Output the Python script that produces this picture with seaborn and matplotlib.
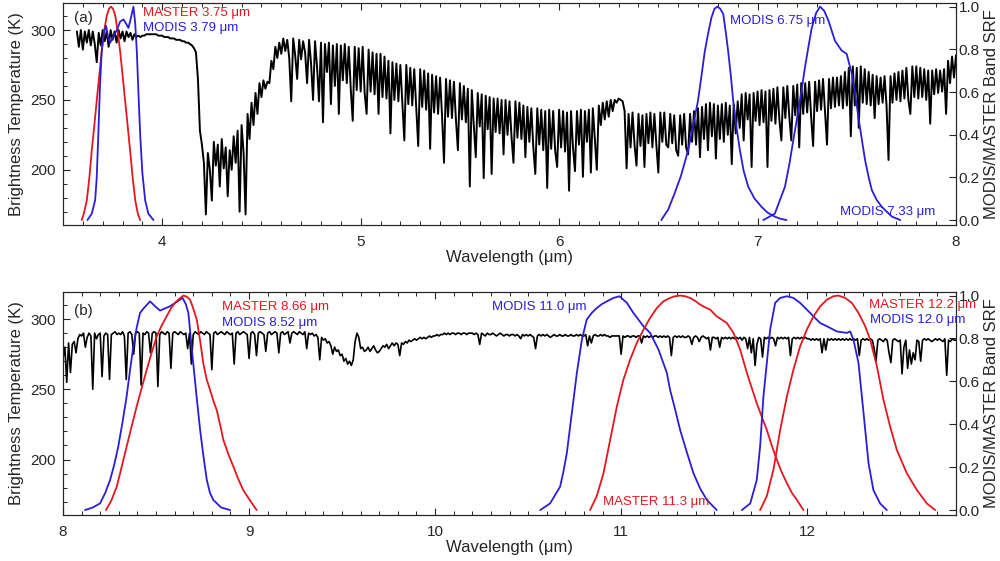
import numpy as np
import matplotlib
matplotlib.use("Agg")
import matplotlib.pyplot as plt
import seaborn as sns
from matplotlib.ticker import MultipleLocator

sns.set_style("ticks")
plt.rcParams.update({
    'font.family': ['Liberation Sans', 'DejaVu Sans'],
    'font.size': 11,
    'axes.linewidth': 0.8,
    'xtick.direction': 'in',
    'ytick.direction': 'in',
})

RED = '#e5161d'
BLUE = '#2a1ed6'

# ---- panel (a): brightness temperature spectrum, 3.57-8.00 um every 0.01 um ----
bt_a = [
    299, 288, 300,
    286, 299, 291, 300, 289, 299, 290, 277, 298, 289,
    300, 292, 299, 288, 300, 293, 299, 291, 300, 294,
    299, 292, 299, 295, 298, 293, 297, 295, 296, 295,
    296, 296, 297, 297, 297, 297, 297, 297, 296, 296,
    296, 295, 295, 295, 294, 294, 294, 293, 293, 293,
    292, 292, 291, 291, 290, 289, 287, 284, 265, 228,
    218, 205, 168, 212, 200, 178, 220, 203, 218, 188,
    222, 201, 216, 181, 214, 200, 224, 205, 228, 170,
    232, 212, 168, 240, 222, 248, 232, 255, 240, 262,
    252, 264, 258, 263, 262, 278, 272, 288, 280, 291,
    283, 294, 285, 293, 280, 249, 294, 282, 265, 293,
    279, 292, 284, 262, 293, 276, 250, 292, 274, 249,
    291, 234, 290, 270, 291, 247, 289, 260, 290, 240,
    289, 264, 290, 262, 288, 258, 235, 288, 257, 287,
    256, 288, 255, 240, 286, 256, 284, 254, 283, 240,
    283, 252, 281, 251, 278, 226, 277, 250, 276, 249,
    275, 248, 221, 275, 247, 273, 246, 272, 245, 217,
    272, 245, 271, 243, 269, 215, 268, 241, 267, 240,
    266, 239, 205, 265, 238, 264, 237, 263, 236, 214,
    262, 236, 260, 234, 258, 188, 257, 232, 209, 255,
    231, 254, 194, 253, 229, 252, 197, 251, 227, 251,
    226, 250, 211, 250, 225, 249, 224, 205, 249, 223,
    248, 222, 246, 209, 245, 220, 244, 216, 197, 244,
    218, 243, 214, 242, 187, 243, 215, 242, 214, 202,
    243, 216, 242, 213, 241, 185, 242, 216, 199, 242,
    218, 243, 195, 242, 220, 243, 198, 244, 222, 200,
    246, 232, 248, 236, 249, 238, 250, 242, 250, 248,
    251, 250, 249, 242, 201, 240, 216, 241, 218, 203,
    240, 217, 239, 202, 240, 219, 241, 216, 240, 218,
    198, 241, 220, 241, 218, 216, 240, 219, 239, 214,
    210, 239, 218, 240, 216, 211, 240, 220, 242, 218,
    244, 209, 245, 222, 247, 214, 248, 224, 247, 208,
    246, 222, 247, 220, 248, 225, 246, 204, 247, 226,
    249, 230, 254, 221, 255, 236, 254, 202, 255, 235,
    256, 232, 257, 234, 256, 202, 257, 235, 258, 233,
    259, 236, 221, 259, 237, 260, 238, 221, 260, 239,
    261, 216, 262, 240, 262, 241, 263, 238, 217, 263,
    242, 264, 243, 265, 241, 218, 265, 244, 266, 245,
    266, 246, 267, 244, 270, 246, 273, 224, 274, 246,
    273, 230, 274, 248, 272, 247, 270, 246, 268, 237,
    267, 247, 266, 248, 267, 246, 207, 267, 248, 269,
    250, 270, 249, 271, 251, 273, 250, 240, 274, 252,
    274, 251, 273, 252, 272, 250, 271, 233, 271, 254,
    272, 255, 271, 256, 272, 240, 278, 262, 281, 266,
    282,
]
wl_a = np.round(3.57 + 0.01 * np.arange(len(bt_a)), 2)

# ---- panel (b): brightness temperature spectrum, 8.00-12.80 um every 0.01 um ----
bt_b = [
    272, 280, 255, 283, 262, 282, 284, 276, 286, 289,
    288, 290, 280, 287, 290, 288, 250, 290, 286, 289,
    290, 259, 288, 290, 289, 257, 289, 290, 291, 289,
    290, 289, 291, 288, 257, 290, 291, 289, 275, 290,
    291, 290, 253, 290, 289, 291, 290, 276, 290, 291,
    290, 252, 289, 291, 290, 289, 291, 290, 265, 290,
    291, 290, 289, 291, 290, 289, 290, 279, 290, 268,
    289, 291, 290, 289, 291, 290, 289, 291, 290, 289,
    264, 290, 291, 289, 290, 291, 290, 289, 291, 290,
    289, 290, 268, 290, 291, 289, 290, 291, 290, 289,
    272, 290, 291, 289, 274, 290, 291, 290, 289, 277,
    290, 291, 289, 290, 291, 290, 276, 290, 291, 289,
    290, 291, 283, 290, 291, 290, 289, 291, 290, 289,
    291, 279, 290, 289, 290, 288, 289, 287, 271, 287,
    285, 286, 283, 284, 281, 275, 280, 277, 278, 274,
    275, 270, 272, 268, 270, 267, 271, 284, 290, 287,
    279, 280, 277, 278, 280, 277, 279, 281, 278, 276,
    277, 279, 281, 280, 282, 279, 281, 283, 281, 283,
    282, 274, 283, 282, 284, 283, 285, 284, 285, 286,
    285, 286, 287, 286, 287, 286, 287, 288, 287, 288,
    288, 289, 288, 289, 289, 290, 289, 290, 289, 290,
    290, 289, 290, 290, 289, 290, 290, 289, 290, 290,
    290, 289, 290, 289, 282, 290, 289, 288, 290, 289,
    289, 290, 289, 288, 289, 290, 289, 288, 289, 289,
    288, 289, 289, 288, 289, 288, 286, 289, 288, 289,
    288, 289, 288, 287, 279, 288, 289, 288, 289, 288,
    289, 288, 287, 288, 289, 288, 288, 289, 288, 288,
    289, 288, 288, 289, 288, 288, 289, 288, 289, 288,
    288, 289, 281, 288, 283, 288, 289, 288, 288, 289,
    288, 289, 288, 288, 287, 288, 288, 288, 288, 288,
    275, 288, 287, 288, 288, 287, 288, 288, 287, 288,
    288, 283, 288, 287, 288, 287, 288, 287, 288, 288,
    287, 288, 287, 288, 287, 288, 287, 274, 287, 288,
    287, 288, 287, 288, 287, 287, 288, 287, 282, 287,
    288, 287, 284, 287, 288, 287, 286, 287, 278, 287,
    287, 286, 287, 280, 287, 286, 287, 286, 287, 286,
    287, 286, 287, 286, 287, 285, 287, 286, 279, 287,
    276, 286, 267, 282, 287, 286, 273, 287, 286, 287,
    286, 287, 286, 281, 287, 286, 287, 286, 287, 286,
    287, 274, 286, 287, 286, 287, 286, 287, 286, 287,
    286, 286, 285, 286, 285, 286, 285, 286, 276, 286,
    278, 286, 285, 286, 285, 286, 285, 286, 285, 286,
    285, 286, 285, 286, 285, 286, 285, 286, 274, 285,
    286, 285, 286, 285, 286, 285, 279, 270, 285, 286,
    285, 284, 286, 285, 276, 269, 285, 286, 285, 284,
    285, 261, 280, 285, 265, 278, 268, 276, 271, 285,
    284, 270, 285, 286, 285, 286, 285, 284, 285, 286,
    285, 286, 285, 284, 286, 260, 285, 284, 286, 285,
    285,
]
wl_b = np.round(8.00 + 0.01 * np.arange(len(bt_b)), 2)

# ---- spectral response functions ----
master375_wl = [3.594, 3.605, 3.620, 3.633, 3.645, 3.658, 3.670, 3.683, 3.695, 3.708, 3.721, 3.732, 3.742,
                3.752, 3.763, 3.776, 3.788, 3.800, 3.813, 3.826, 3.838, 3.851, 3.864, 3.877, 3.889]
master375_srf = [0.0, 0.03, 0.093, 0.2, 0.327, 0.445, 0.56, 0.68, 0.79, 0.89, 0.96, 0.99, 1.0,
                 0.99, 0.96, 0.88, 0.79, 0.68, 0.56, 0.44, 0.327, 0.2, 0.093, 0.03, 0.0]

modis379_wl = [3.623, 3.645, 3.662, 3.670, 3.678, 3.686, 3.695, 3.706, 3.717, 3.727, 3.737, 3.754, 3.771,
               3.788, 3.805, 3.818, 3.830, 3.843, 3.855, 3.864, 3.872, 3.880, 3.889, 3.900, 3.914, 3.930, 3.956]
modis379_srf = [0.0, 0.03, 0.093, 0.2, 0.40, 0.62, 0.79, 0.88, 0.91, 0.86, 0.83, 0.86, 0.89,
                0.93, 0.94, 0.92, 0.90, 0.95, 1.0, 0.92, 0.79, 0.60, 0.40, 0.22, 0.093, 0.03, 0.0]

modis675_wl = [6.515, 6.55, 6.582, 6.615, 6.650, 6.675, 6.700, 6.718, 6.734, 6.752, 6.768, 6.783, 6.798,
               6.812, 6.827, 6.840, 6.852, 6.865, 6.877, 6.893, 6.911, 6.930, 6.953, 6.985, 7.020, 7.050,
               7.087, 7.115, 7.146]
modis675_srf = [0.0, 0.05, 0.125, 0.21, 0.327, 0.44, 0.56, 0.68, 0.79, 0.88, 0.95, 0.99, 1.0,
                0.99, 0.966, 0.88, 0.79, 0.68, 0.56, 0.44, 0.327, 0.23, 0.156, 0.10, 0.062, 0.035,
                0.016, 0.006, 0.0]

modis733_wl = [7.029, 7.087, 7.138, 7.160, 7.180, 7.214, 7.239, 7.256, 7.273, 7.295, 7.315, 7.336, 7.357,
               7.390, 7.424, 7.449, 7.475, 7.492, 7.508, 7.525, 7.542, 7.560, 7.576, 7.600, 7.626, 7.677, 7.719]
modis733_srf = [0.0, 0.03, 0.156, 0.26, 0.374, 0.56, 0.716, 0.81, 0.90, 0.97, 1.0, 0.98, 0.935,
                0.84, 0.794, 0.779, 0.685, 0.59, 0.483, 0.38, 0.28, 0.20, 0.14, 0.095, 0.062, 0.016, 0.0]

modis852_wl = [8.118, 8.160, 8.199, 8.227, 8.253, 8.275, 8.297, 8.320, 8.342, 8.360, 8.378, 8.396, 8.414,
               8.435, 8.468, 8.495, 8.522, 8.548, 8.575, 8.610, 8.643, 8.660, 8.674, 8.687, 8.700, 8.718,
               8.737, 8.755, 8.773, 8.790, 8.808, 8.850, 8.898]
modis852_srf = [0.0, 0.012, 0.031, 0.08, 0.14, 0.21, 0.296, 0.41, 0.53, 0.65, 0.763, 0.85, 0.919,
                0.942, 0.973, 0.95, 0.93, 0.94, 0.95, 0.97, 0.989, 0.96, 0.919, 0.80, 0.685, 0.53,
                0.374, 0.25, 0.14, 0.08, 0.047, 0.012, 0.0]

master866_wl = [8.231, 8.260, 8.289, 8.315, 8.342, 8.369, 8.396, 8.423, 8.450, 8.477, 8.504, 8.530, 8.557,
                8.580, 8.602, 8.625, 8.647, 8.665, 8.683, 8.700, 8.719, 8.737, 8.754, 8.772, 8.790, 8.808,
                8.826, 8.844, 8.862, 8.889, 8.916, 8.942, 8.969, 9.005, 9.041]
master866_srf = [0.0, 0.045, 0.109, 0.20, 0.296, 0.39, 0.483, 0.57, 0.654, 0.735, 0.81, 0.86, 0.903,
                 0.94, 0.966, 0.985, 1.0, 0.995, 0.981, 0.94, 0.888, 0.79, 0.685, 0.61, 0.561, 0.51,
                 0.467, 0.40, 0.327, 0.26, 0.202, 0.145, 0.093, 0.045, 0.0]

modis110_wl = [10.565, 10.618, 10.672, 10.690, 10.708, 10.735, 10.762, 10.789, 10.815, 10.842, 10.869,
               10.896, 10.923, 10.959, 10.991, 11.031, 11.066, 11.120, 11.156, 11.201, 11.227, 11.246,
               11.263, 11.290, 11.317, 11.353, 11.389, 11.425, 11.461, 11.514]
modis110_srf = [0.0, 0.031, 0.109, 0.18, 0.265, 0.452, 0.639, 0.794, 0.888, 0.919, 0.942,
                0.96, 0.973, 0.989, 0.997, 0.966, 0.919, 0.857, 0.826, 0.748, 0.685, 0.639,
                0.561, 0.47, 0.374, 0.27, 0.171, 0.10, 0.047, 0.0]

master113_wl = [10.833, 10.869, 10.905, 10.941, 10.977, 11.012, 11.048, 11.084, 11.120, 11.156, 11.192,
                11.227, 11.263, 11.290, 11.317, 11.344, 11.371, 11.398, 11.425, 11.452, 11.478, 11.514,
                11.568, 11.604, 11.640, 11.676, 11.702, 11.729, 11.756, 11.783, 11.810, 11.837, 11.864,
                11.891, 11.918, 11.945, 11.980]
master113_srf = [0.0, 0.065, 0.171, 0.327, 0.483, 0.607, 0.701, 0.779, 0.841, 0.896, 0.942,
                 0.973, 0.989, 0.997, 1.0, 0.997, 0.989, 0.975, 0.958, 0.945, 0.935, 0.903,
                 0.872, 0.826, 0.748, 0.639, 0.57, 0.498, 0.435, 0.374, 0.30, 0.234, 0.175,
                 0.125, 0.08, 0.047, 0.0]

modis120_wl = [11.649, 11.694, 11.729, 11.747, 11.765, 11.783, 11.801, 11.828, 11.855, 11.891, 11.926,
               11.962, 11.998, 12.034, 12.070, 12.106, 12.159, 12.213, 12.231, 12.249, 12.276, 12.303,
               12.330, 12.356, 12.392, 12.428]
modis120_srf = [0.0, 0.031, 0.14, 0.296, 0.53, 0.685, 0.841, 0.966, 0.989, 0.997, 0.989,
                0.966, 0.935, 0.903, 0.872, 0.857, 0.833, 0.826, 0.833, 0.794, 0.685, 0.452,
                0.218, 0.093, 0.031, 0.0]

master122_wl = [11.747, 11.783, 11.819, 11.855, 11.891, 11.926, 11.962, 11.998, 12.034, 12.070, 12.106,
                12.141, 12.168, 12.204, 12.240, 12.276, 12.312, 12.339, 12.375, 12.410, 12.446, 12.482,
                12.536, 12.590, 12.643, 12.688]
master122_srf = [0.0, 0.065, 0.19, 0.374, 0.53, 0.654, 0.763, 0.841, 0.903, 0.95, 0.981,
                 0.997, 1.0, 0.989, 0.966, 0.919, 0.857, 0.794, 0.67, 0.514, 0.389, 0.28,
                 0.171, 0.093, 0.031, 0.0]

# band labels: text, wavelength, SRF height, colour
notes_a = [("MASTER 3.75 \u03bcm", 3.904, 0.972, RED),
           ("MODIS 3.79 \u03bcm", 3.904, 0.900, BLUE),
           ("MODIS 6.75 \u03bcm", 6.859, 0.935, BLUE),
           ("MODIS 7.33 \u03bcm", 7.414, 0.037, BLUE)]
notes_b = [("MASTER 8.66 \u03bcm", 8.855, 0.949, RED),
           ("MODIS 8.52 \u03bcm", 8.855, 0.872, BLUE),
           ("MODIS 11.0 \u03bcm", 10.305, 0.947, BLUE),
           ("MASTER 11.3 \u03bcm", 10.905, 0.039, RED),
           ("MASTER 12.2 \u03bcm", 12.335, 0.958, RED),
           ("MODIS 12.0 \u03bcm", 12.339, 0.885, BLUE)]

srf_a = [(master375_wl, master375_srf, RED), (modis379_wl, modis379_srf, BLUE),
         (modis675_wl, modis675_srf, BLUE), (modis733_wl, modis733_srf, BLUE)]
srf_b = [(modis852_wl, modis852_srf, BLUE), (master866_wl, master866_srf, RED),
         (modis110_wl, modis110_srf, BLUE), (master113_wl, master113_srf, RED),
         (modis120_wl, modis120_srf, BLUE), (master122_wl, master122_srf, RED)]


def draw_panel(ax, wl, bt, srfs, notes, xlim, spec_lw, tag, tag_y):
    sns.lineplot(x=wl, y=bt, ax=ax, color='black', lw=spec_lw, estimator=None, sort=False)
    ax.set_xlim(*xlim)
    ax.set_ylim(160.5, 319.5)
    ax.xaxis.set_major_locator(MultipleLocator(1))
    ax.xaxis.set_minor_locator(MultipleLocator(0.1))
    ax.yaxis.set_major_locator(MultipleLocator(50))
    ax.yaxis.set_minor_locator(MultipleLocator(10))
    ax.tick_params(which='both', top=True, right=False, direction='in', labelsize=11)
    ax.tick_params(which='major', length=5, width=0.8)
    ax.tick_params(which='minor', length=3, width=0.7)
    ax.tick_params(axis='x', which='both', pad=7)
    ax.tick_params(axis='y', which='both', pad=5)
    ax.set_xlabel("Wavelength (\u03bcm)", fontsize=12, labelpad=1)
    ax.set_ylabel("Brightness Temperature (K)", fontsize=12, labelpad=5)
    ax.text(0.012, tag_y, tag, transform=ax.transAxes, fontsize=11, va='center', ha='left')

    ax2 = ax.twinx()
    for w, s, c in srfs:
        sns.lineplot(x=w, y=s, ax=ax2, color=c, lw=1.3, estimator=None, sort=False)
    ax2.set_ylim(-0.023, 1.018)
    ax2.yaxis.set_major_locator(MultipleLocator(0.2))
    ax2.yaxis.set_major_formatter(matplotlib.ticker.FormatStrFormatter('%.1f'))
    ax2.tick_params(axis='y', direction='in', length=5, width=0.8, labelsize=11, pad=2)
    ax2.set_ylabel("MODIS/MASTER Band SRF", fontsize=12, labelpad=3)
    ax2.set_xlim(*xlim)
    for txt, x, y, c in notes:
        ax2.text(x, y, txt, color=c, fontsize=9.5, ha='left', va='center')
    for a in (ax, ax2):
        for sp in a.spines.values():
            sp.set_visible(True)
            sp.set_linewidth(0.8)


fig = plt.figure(figsize=(10, 5.61), dpi=100)
ax_a = fig.add_axes([0.063, 0.599, 0.893, 0.396])
ax_b = fig.add_axes([0.063, 0.082, 0.893, 0.398])

draw_panel(ax_a, wl_a, bt_a, srf_a, notes_a, (3.5, 8.0), 1.4, "(a)", 0.93)
draw_panel(ax_b, wl_b, bt_b, srf_b, notes_b, (8.0, 12.8), 1.2, "(b)", 0.913)

fig.savefig("out.png", dpi=100)
